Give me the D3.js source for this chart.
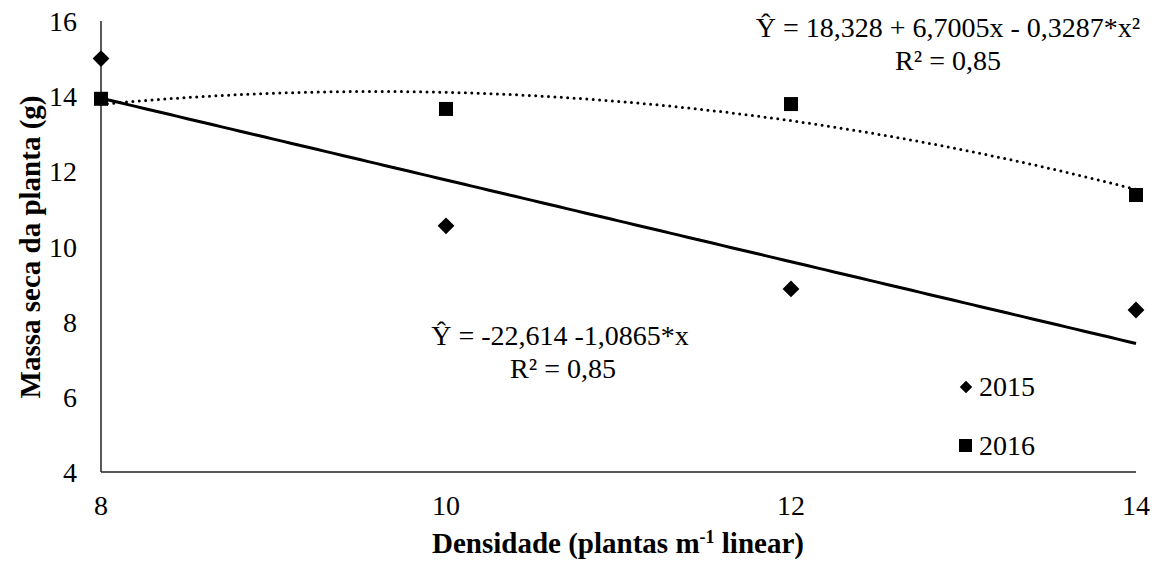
<!DOCTYPE html>
<html>
<head>
<meta charset="utf-8">
<script src="https://cdn.jsdelivr.net/npm/d3@7"></script>
<style>
  html, body { margin: 0; padding: 0; background: #fff; }
</style>
</head>
<body>
<svg id="chart" width="1167" height="562" font-family="Liberation Serif"></svg>
<script>
// Plant density (plants per linear metre)
const densities = [8, 10, 12, 14];
// Dry mass per plant (g)
const mass2015 = [15.0, 10.55, 8.87, 8.31];
const mass2016 = [13.93, 13.66, 13.79, 11.37];

const xTicks = [8, 10, 12, 14];
const yTicks = [4, 6, 8, 10, 12, 14, 16];

const eq2016 = "Ŷ = 18,328 + 6,7005x - 0,3287*x²";
const r2016 = "R² = 0,85";
const eq2015 = "Ŷ = -22,614 -1,0865*x";
const r2015 = "R² = 0,85";
const legendLabels = ["2015", "2016"];

const FONT = "Liberation Serif";
const svg = d3.select("#chart");
const x = d3.scaleLinear().domain([8, 14]).range([101, 1136]);
const y = d3.scaleLinear().domain([4, 16]).range([472, 21]);

// Least-squares polynomial fit (degree 1 or 2) via normal equations
function polyfit(xs, ys, deg) {
  const n = deg + 1;
  const A = Array.from({length: n}, () => new Array(n + 1).fill(0));
  for (let i = 0; i < xs.length; i++) {
    for (let r = 0; r < n; r++) {
      for (let c = 0; c < n; c++) A[r][c] += Math.pow(xs[i], r + c);
      A[r][n] += ys[i] * Math.pow(xs[i], r);
    }
  }
  for (let p = 0; p < n; p++) {
    for (let r = p + 1; r < n; r++) {
      const f = A[r][p] / A[p][p];
      for (let c = p; c <= n; c++) A[r][c] -= f * A[p][c];
    }
  }
  const coef = new Array(n).fill(0);
  for (let r = n - 1; r >= 0; r--) {
    let s = A[r][n];
    for (let c = r + 1; c < n; c++) s -= A[r][c] * coef[c];
    coef[r] = s / A[r][r];
  }
  return xv => coef.reduce((acc, k, i) => acc + k * Math.pow(xv, i), 0);
}

const lin = polyfit(densities, mass2015, 1);
const quad = polyfit(densities, mass2016, 2);
const xs = d3.range(8, 14.0001, 0.05);

function label(sel, size) {
  return sel.attr("font-family", FONT).attr("font-size", size).attr("fill", "#000");
}

// Axes: plain lines, no tick marks
svg.append("line").attr("x1", x(8)).attr("x2", x(8)).attr("y1", y(16)).attr("y2", y(4))
  .attr("stroke", "#000").attr("stroke-width", 1.3);
svg.append("line").attr("x1", x(8)).attr("x2", x(14)).attr("y1", y(4)).attr("y2", y(4))
  .attr("stroke", "#222").attr("stroke-width", 1.5);

label(svg.append("g").selectAll("text").data(yTicks).join("text"), 28)
  .attr("x", 77).attr("y", d => y(d) + 10)
  .attr("text-anchor", "end").text(d => d);

label(svg.append("g").selectAll("text").data(xTicks).join("text"), 28)
  .attr("x", d => x(d)).attr("y", 515)
  .attr("text-anchor", "middle").text(d => d);

// Trend lines
svg.append("path")
  .attr("d", d3.line().x(d => x(d)).y(d => y(quad(d)))(xs))
  .attr("fill", "none").attr("stroke", "#000").attr("stroke-width", 3)
  .attr("stroke-linecap", "round").attr("stroke-dasharray", "0,6.4");
svg.append("path")
  .attr("d", d3.line().x(d => x(d)).y(d => y(lin(d)))(xs))
  .attr("fill", "none").attr("stroke", "#000").attr("stroke-width", 3);

// Markers
const diamond = d3.symbol().type(d3.symbolDiamond2).size(180);
svg.append("g").selectAll("path").data(densities).join("path")
  .attr("d", diamond)
  .attr("transform", (d, i) => `translate(${x(d)},${y(mass2015[i])})`)
  .attr("fill", "#000");
svg.append("g").selectAll("rect").data(densities).join("rect")
  .attr("x", d => x(d) - 7).attr("width", 14)
  .attr("y", (d, i) => y(mass2016[i]) - 7).attr("height", 14)
  .attr("fill", "#000");

// Regression equations
label(svg.append("text"), 28).attr("x", 948).attr("y", 37).attr("text-anchor", "middle").text(eq2016);
label(svg.append("text"), 28).attr("x", 948).attr("y", 70).attr("text-anchor", "middle").text(r2016);
label(svg.append("text"), 28).attr("x", 560).attr("y", 345).attr("text-anchor", "middle").text(eq2015);
label(svg.append("text"), 28).attr("x", 563).attr("y", 378).attr("text-anchor", "middle").text(r2015);

// Legend
const lg = svg.append("g");
lg.append("path").attr("d", d3.symbol().type(d3.symbolDiamond2).size(100))
  .attr("transform", "translate(966,387)").attr("fill", "#000");
label(lg.append("text"), 28).attr("x", 979).attr("y", 396).text(legendLabels[0]);
lg.append("rect").attr("x", 959).attr("y", 439).attr("width", 13).attr("height", 13).attr("fill", "#000");
label(lg.append("text"), 28).attr("x", 979).attr("y", 455).text(legendLabels[1]);

// Axis titles
label(svg.append("text"), 29)
  .attr("transform", "translate(40,247) rotate(-90)")
  .attr("text-anchor", "middle").attr("font-weight", "bold")
  .text("Massa seca da planta (g)");

const xt = label(svg.append("text"), 29).attr("x", 618).attr("y", 553)
  .attr("text-anchor", "middle").attr("font-weight", "bold");
xt.append("tspan").text("Densidade (plantas m");
xt.append("tspan").attr("font-size", 18).attr("dy", -10).text("-1");
xt.append("tspan").attr("dy", 10).text(" linear)");
</script>
</body>
</html>
